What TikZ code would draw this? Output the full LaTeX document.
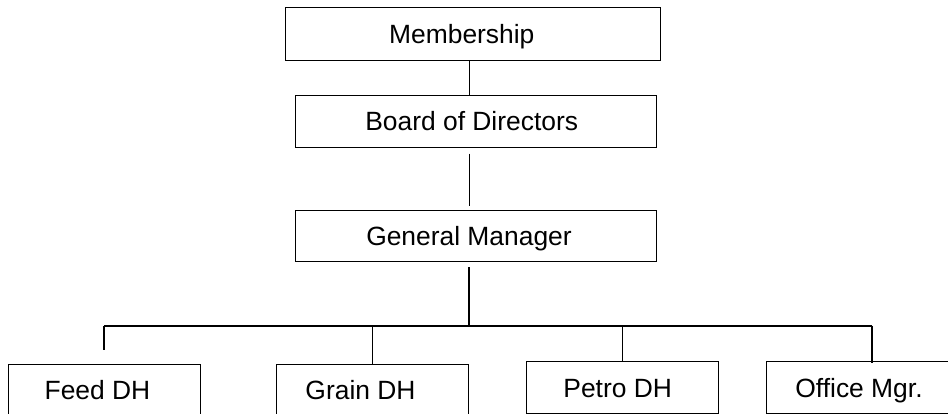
\documentclass[tikz,border=0pt]{standalone}
\usepackage{fontspec}
\setmainfont{Liberation Sans}
\newcommand{\txtleft}[1]{\kern-#1pt\relax}
\begin{document}
\begin{tikzpicture}[x=1pt,y=-1pt,
  box/.style={draw=black,line width=1pt,inner sep=0pt,minimum width=192pt,minimum height=52pt,
    text height=19pt,text depth=0pt,font=\fontsize{26.4}{30}\selectfont},
  conn/.style={draw=black,line width=1pt},
  busline/.style={draw=black,line width=1.6pt}]
\useasboundingbox (0,0) rectangle (948,413);
\clip (0,0) rectangle (948,413);
\fill[white] (0,0) rectangle (948,413);
\coordinate (spine) at (469,0);
\coordinate (bus) at (469,325.7);
\node[box,minimum width=374.7pt,minimum height=52.7pt] (mem) at (473.3,34.3) {\txtleft{23}Membership};
\node[box,minimum width=361pt,minimum height=52pt] (board) at (476.2,121) {\txtleft{9}Board of Directors};
\node[box,minimum width=361.7pt,minimum height=51pt] (gm) at (476,236.2) {\txtleft{14}General Manager};
\node[box] (feed) at (104,390) {\txtleft{13}Feed DH};
\node[box] (grain) at (372.5,390) {\txtleft{24}Grain DH};
\node[box] (petro) at (622.2,387.7) {\txtleft{9}Petro DH};
\node[box] (office) at (862,387.7) {\txtleft{6}Office Mgr.};
\coordinate (busL) at (feed.north |- bus);
\coordinate (busR) at (871.7,325.7);
\draw[conn] (mem.south -| spine) -- (board.north -| spine);
\draw[conn,shorten <=6pt,shorten >=4pt] (board.south -| spine) -- (gm.north -| spine);
\draw[busline,shorten <=5pt] (gm.south -| spine) -- (bus);
\draw[busline] (busL) -- (busR);
\draw[busline,shorten >=14pt] (busL) -- (feed.north);
\draw[conn,line width=1.3pt] (grain.north |- bus) -- (grain.north);
\draw[conn,line width=1.3pt] (petro.north |- bus) -- (petro.north);
\draw[busline,shorten >=-2pt] (busR) -- (busR |- office.north);
\end{tikzpicture}
\end{document}
